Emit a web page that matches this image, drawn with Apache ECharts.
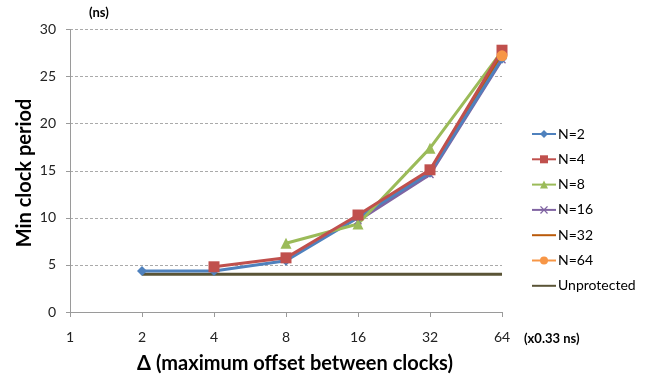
<!DOCTYPE html>
<html><head><meta charset="utf-8">
<script src="https://cdn.jsdelivr.net/npm/echarts@6/dist/echarts.min.js"></script>
<style>html,body{margin:0;padding:0;background:#fff}#c{width:646px;height:379px}</style>
</head><body><div id="c"></div>
<script>
var categories = ['1','2','4','8','16','32','64'];
var n2  = [null, 4.35, 4.35, 5.45, 10.0, 14.8, 26.9];
var n4  = [null, null, 4.8, 5.75, 10.3, 15.1, 27.8];
var n8  = [null, null, null, 7.3, 9.35, 17.4, 27.7];
var n16 = [null, null, null, null, 9.7, 14.6, 26.8];
var n32 = [null, null, null, null, 10.1, 15.0, 27.4];
var n64 = [null, null, null, null, null, null, 27.2];
var unprot = [null, 4.0, 4.0, 4.0, 4.0, 4.0, 4.0];
var yTicks = [0, 5, 10, 15, 20, 25, 30];

var FONT = 'Lato, "Open Sans", sans-serif';
var xPath = 'path://M0,1.2L1.2,0L5,3.8L8.8,0L10,1.2L6.2,5L10,8.8L8.8,10L5,6.2L1.2,10L0,8.8L3.8,5Z';

function s(name, data, color, symbol, size) {
  return {
    name: name, type: 'line', data: data,
    symbol: symbol || 'none', symbolSize: size || 0, showSymbol: !!symbol,
    lineStyle: {color: color, width: 3}, itemStyle: {color: color},
    connectNulls: false, animation: false
  };
}

var chart = echarts.init(document.getElementById('c'));
chart.setOption({
  animation: false,
  grid: {left: 70, right: 144, top: 29.5, bottom: 60},
  xAxis: {
    type: 'category', data: categories, boundaryGap: false,
    axisLine: {lineStyle: {color: '#9a9a9a', width: 1}},
    axisTick: {show: true, alignWithLabel: true, length: 5, lineStyle: {color: '#9a9a9a'}},
    axisLabel: {color: '#222', fontSize: 14, fontFamily: FONT, margin: 18},
    name: 'Δ (maximum offset between clocks)', nameLocation: 'middle', nameGap: 42,
    nameTextStyle: {fontSize: 20, fontWeight: 'bold', color: '#000', fontFamily: FONT, padding: [0, 0, 0, 18]}
  },
  yAxis: {
    type: 'value', min: 0, max: 30, interval: 5,
    axisLine: {show: true, lineStyle: {color: '#9a9a9a', width: 1}},
    axisTick: {show: true, length: 4, lineStyle: {color: '#9a9a9a'}},
    axisLabel: {color: '#222', fontSize: 14, fontFamily: FONT, margin: 14},
    splitLine: {show: true, lineStyle: {color: '#aaaaaa', type: [3, 2], width: 1}}
  },
  legend: {
    orient: 'vertical', left: 526, top: 122, itemGap: 11.3,
    itemWidth: 24, itemHeight: 10,
    textStyle: {fontSize: 14, color: '#000', fontFamily: FONT, padding: [0,0,0,-3]},
    data: ['N=2','N=4','N=8','N=16',
      {name: 'N=32', itemStyle: {opacity: 0}},
      'N=64',
      {name: 'Unprotected', itemStyle: {opacity: 0}}]
  },
  graphic: [
    {type: 'text', x: 25, y: 173, rotation: Math.PI / 2,
     style: {text: 'Min clock period', font: 'bold 20px ' + FONT, fill: '#000', align: 'center', verticalAlign: 'middle'}},
    {type: 'text', left: 89, top: 6, style: {text: '(ns)', font: 'bold 13px ' + FONT, fill: '#000'}},
    {type: 'text', left: 524, top: 332, style: {text: '(x0.33 ns)', font: 'bold 13px ' + FONT, fill: '#000'}}
  ],
  series: [
    s('Unprotected', unprot, '#5A5436', 'rect', 0.1),
    s('N=32', n32, '#BA5A0A'),
    s('N=16', n16, '#8064A2', xPath, 8),
    s('N=2', n2, '#4F81BD', 'diamond', 10),
    s('N=8', n8, '#9BBB59', 'triangle', 11),
    s('N=4', n4, '#C0504D', 'rect', 11),
    s('N=64', n64, '#F79646', 'circle', 11)
  ]
});
</script></body></html>
